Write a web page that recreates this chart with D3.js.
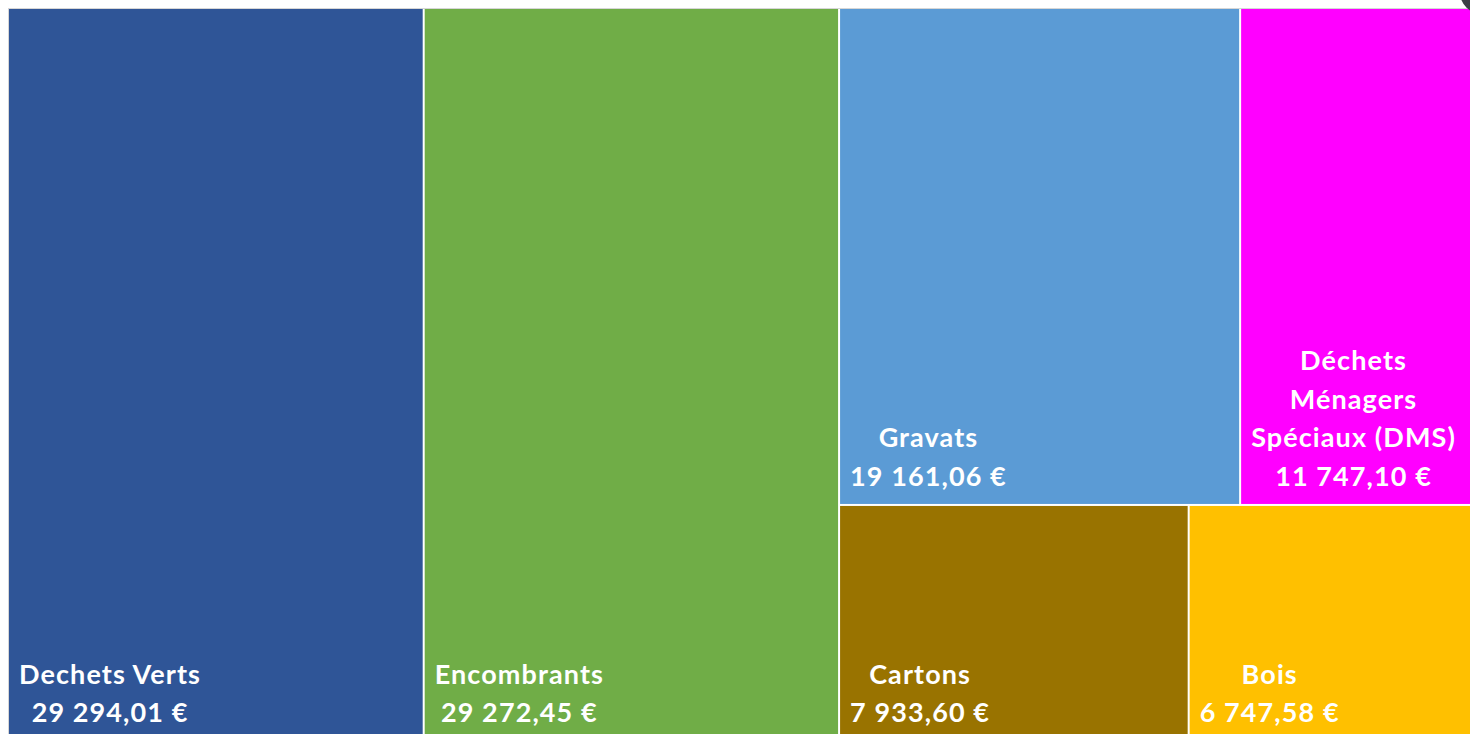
<!DOCTYPE html>
<html>
<head>
<meta charset="utf-8">
<script src="https://cdn.jsdelivr.net/npm/d3@7"></script>
<style>
  html, body { margin: 0; padding: 0; background: #fff; overflow: hidden; }
  svg { display: block; }
</style>
</head>
<body>
<div id="chart"></div>
<script>
// treemap values (euros)
const NAMES = ["Dechets Verts", "Encombrants", "Gravats", "Déchets Ménagers Spéciaux (DMS)", "Cartons", "Bois"];
const VALUES = [29294.01, 29272.45, 19161.06, 11747.10, 7933.60, 6747.58];
const LABELS = ["29 294,01 €", "29 272,45 €", "19 161,06 €", "11 747,10 €", "7 933,60 €", "6 747,58 €"];
const COLORS = ["#2F5597", "#70AD47", "#5B9BD5", "#FF00FF", "#997300", "#FFC000"];

var width = 1470, height = 734;

var svg = d3.select("#chart").append("svg")
    .attr("width", width)
    .attr("height", height);

function leaf(i) { return {name: NAMES[i], value: VALUES[i], label: LABELS[i], color: COLORS[i]}; }

// same grouping as the excel layout: two big columns then a 2x2 block
var data = {
  children: [
    leaf(0),
    leaf(1),
    {children: [
      {children: [leaf(2), leaf(3)]},
      {children: [leaf(4), leaf(5)]}
    ]}
  ]
};

var root = d3.hierarchy(data).sum(function(d) { return d.value || 0; });

d3.treemap()
  .tile(d3.treemapSliceDice)
  .size([1476, 731])
  .paddingInner(2)
  (root);

var g = svg.append("g").attr("transform", "translate(9,9)");

// light frame of the plot area
svg.append("rect")
  .attr("x", 8.5).attr("y", 8.5)
  .attr("width", 1480).attr("height", 740)
  .attr("fill", "none").attr("stroke", "#d6d6d6");

var cell = g.selectAll("g.cell")
  .data(root.leaves())
  .enter().append("g").attr("class", "cell");

cell.append("rect")
  .attr("x", function(d) { return d.x0; })
  .attr("y", function(d) { return d.y0; })
  .attr("width", function(d) { return d.x1 - d.x0; })
  .attr("height", function(d) { return d.y1 - d.y0; })
  .attr("fill", function(d) { return d.data.color; });

var FONT = 27, LINE = 38.5, PAD = 10, BOTTOM = 18;

cell.each(function(d) {
  var node = d3.select(this);
  var avail = d.x1 - d.x0 - 2 * PAD;

  var t = node.append("text")
    .attr("fill", "#fff")
    .style("font-family", "Lato, 'Open Sans', sans-serif")
    .style("font-weight", "bold")
    .style("font-size", FONT + "px")
    .style("letter-spacing", "1.1px")
    .attr("text-anchor", "middle");

  // wrap the name into lines that fit the box
  var words = d.data.name.split(" ");
  var lines = [], cur = "";
  var probe = t.append("tspan");
  words.forEach(function(w) {
    var test = cur ? cur + " " + w : w;
    probe.text(test);
    if (probe.node().getComputedTextLength() > avail && cur) {
      lines.push(cur);
      cur = w;
    } else cur = test;
  });
  lines.push(cur);
  probe.remove();
  lines.push(d.data.label);

  // block width = widest line, block sits at left of the box
  var widest = 0;
  lines.forEach(function(l) {
    var s = t.append("tspan").text(l);
    widest = Math.max(widest, s.node().getComputedTextLength());
    s.remove();
  });
  var cx = d.x0 + PAD + widest / 2;
  var lastY = d.y1 - BOTTOM;

  lines.forEach(function(l, i) {
    t.append("tspan")
      .attr("x", cx)
      .attr("y", lastY - (lines.length - 1 - i) * LINE)
      .text(l);
  });
});

// bit of dark button at the top right corner of the screenshot
svg.append("circle")
  .attr("cx", 1482).attr("cy", -8).attr("r", 22)
  .attr("fill", "#3b3f45");
</script>
</body>
</html>
